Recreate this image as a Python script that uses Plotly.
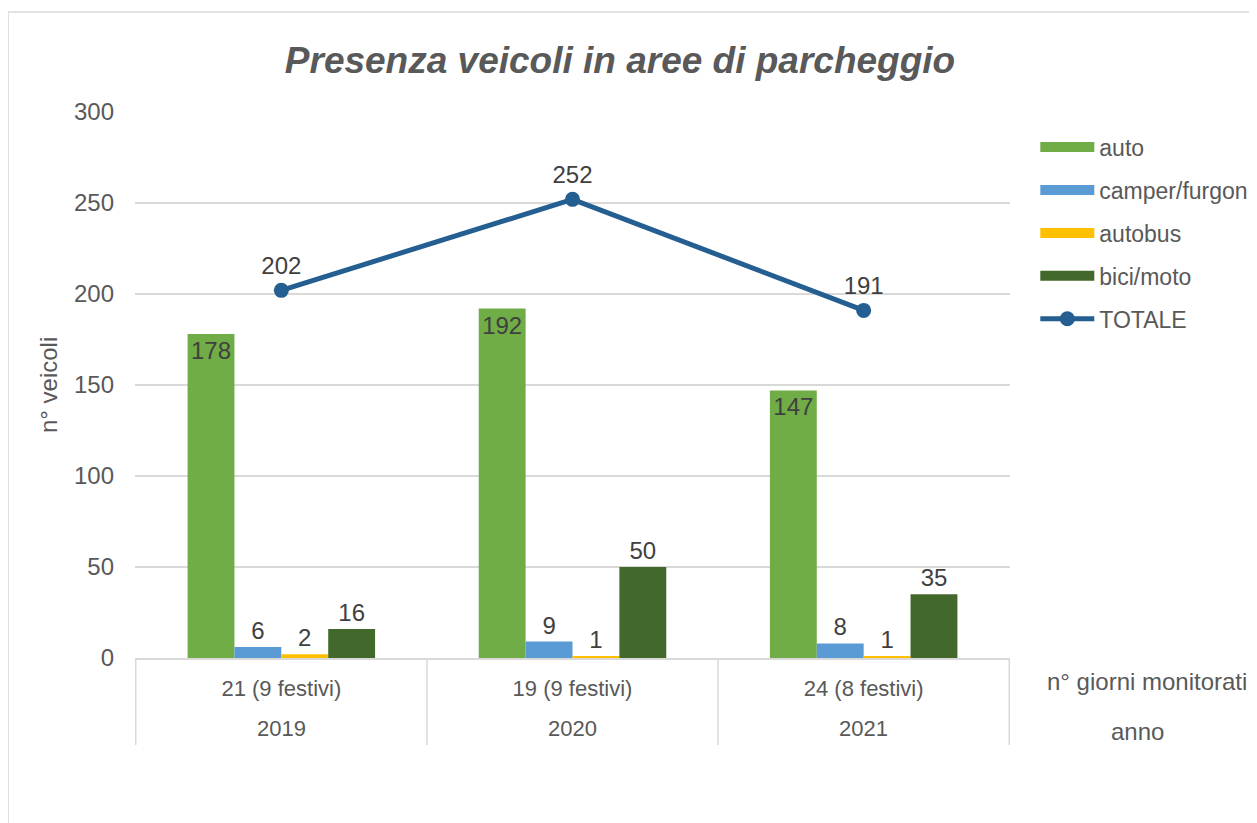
import plotly.graph_objects as go

anni = ["2019", "2020", "2021"]
giorni = ["21 (9 festivi)", "19 (9 festivi)", "24 (8 festivi)"]
auto = [178, 192, 147]
camper = [6, 9, 8]
autobus = [2, 1, 1]
bici = [16, 50, 35]
totale = [202, 252, 191]

FONT = "Liberation Sans, Arial, sans-serif"
LBL = "#404040"
GREY = "#595959"
LINE = "#D9D9D9"
FS = 24

fig = go.Figure()
series = [
    ("auto", auto, "#70AD47"),
    ("camper/furgon", camper, "#5B9BD5"),
    ("autobus", autobus, "#FFC000"),
    ("bici/moto", bici, "#43682B"),
]
for name, vals, col in series:
    fig.add_trace(go.Bar(
        x=giorni, y=vals, name=name, marker=dict(color=col, line=dict(width=0)),
        text=[str(v) for v in vals],
        textposition="inside" if name == "auto" else "outside",
        insidetextanchor="end", textangle=0,
        constraintext="none",
        textfont=dict(family=FONT, size=FS, color=LBL),
        outsidetextfont=dict(family=FONT, size=FS, color=LBL),
        insidetextfont=dict(family=FONT, size=FS, color=LBL),
        cliponaxis=False, showlegend=False,
    ))

fig.add_trace(go.Scatter(
    x=giorni, y=totale, name="TOTALE", mode="lines+markers+text",
    line=dict(color="#255E91", width=5),
    marker=dict(color="#255E91", size=15),
    text=[str(v) for v in totale], textposition="top center",
    textfont=dict(family=FONT, size=FS, color=LBL),
    cliponaxis=False, showlegend=False,
))

# legend entries (wide swatches like the original)
for name, vals, col in series:
    fig.add_trace(go.Scatter(x=[None], y=[None], mode="lines", name=name,
                             line=dict(color=col, width=12), legendgroup=name))
fig.add_trace(go.Scatter(x=[None], y=[None], mode="lines+markers", name="TOTALE",
                         line=dict(color="#255E91", width=5),
                         marker=dict(color="#255E91", size=15), legendgroup="TOTALE"))

fig.update_layout(
    width=1249, height=815,
    margin=dict(l=127, r=247, t=104, b=165, autoexpand=False),
    paper_bgcolor="white", plot_bgcolor="white",
    barmode="group", bargap=0.356, bargroupgap=0,
    font=dict(family=FONT, size=FS, color=GREY),
    title=dict(text="<b><i>Presenza veicoli in aree di parcheggio</i></b>",
               x=0.49, xanchor="center", y=0.936, yanchor="middle",
               font=dict(family=FONT, size=37, color=GREY)),
    showlegend=True,
    legend=dict(xref="container", x=0.8225, y=0.975, xanchor="left", yanchor="top",
                font=dict(family=FONT, size=23, color=GREY),
                tracegroupgap=10, itemwidth=54,
                bgcolor="rgba(0,0,0,0)"),
    yaxis=dict(range=[0, 300], dtick=50, showgrid=True, gridcolor=LINE,
               gridwidth=1.5, zeroline=False, showline=False,
               tickfont=dict(family=FONT, size=FS, color=GREY),
               ticks="", ticklabelstandoff=20),
    xaxis=dict(type="category", categoryarray=giorni, categoryorder="array",
               showline=True, linecolor=LINE, linewidth=1.5, showgrid=False,
               ticks="", ticklabelstandoff=10,
               tickfont=dict(family=FONT, size=22, color=GREY)),
)

for a, g in zip(anni, giorni):
    fig.add_annotation(text=a, xref="x", yref="paper", x=g, y=-0.130,
                       xanchor="center", yanchor="middle", showarrow=False,
                       font=dict(family=FONT, size=22, color=GREY))

# group dividers below the axis
for k in range(len(giorni) + 1):
    fig.add_shape(type="line", xref="x", yref="paper",
                  x0=k - 0.5, x1=k - 0.5, y0=0, y1=-0.1593,
                  line=dict(color=LINE, width=1.5))

fig.add_annotation(text="n° veicoli", textangle=-90, xref="paper", yref="paper",
                   x=-0.0994, y=0.5, xanchor="center", yanchor="middle",
                   showarrow=False, font=dict(family=FONT, size=FS, color=GREY))
fig.add_annotation(text="n° giorni monitorati", xref="paper", yref="paper",
                   x=1.157, y=-0.043, xanchor="center", yanchor="middle",
                   showarrow=False, font=dict(family=FONT, size=FS, color=GREY))
fig.add_annotation(text="anno", xref="paper", yref="paper",
                   x=1.146, y=-0.1337, xanchor="center", yanchor="middle",
                   showarrow=False, font=dict(family=FONT, size=FS, color=GREY))

fig.add_shape(type="rect", xref="paper", yref="paper",
              x0=-0.1451, y0=-0.6, x1=1.6, y1=1.1832,
              line=dict(color=LINE, width=1.5), fillcolor="rgba(0,0,0,0)",
              layer="below")

fig.write_html("out.html")
